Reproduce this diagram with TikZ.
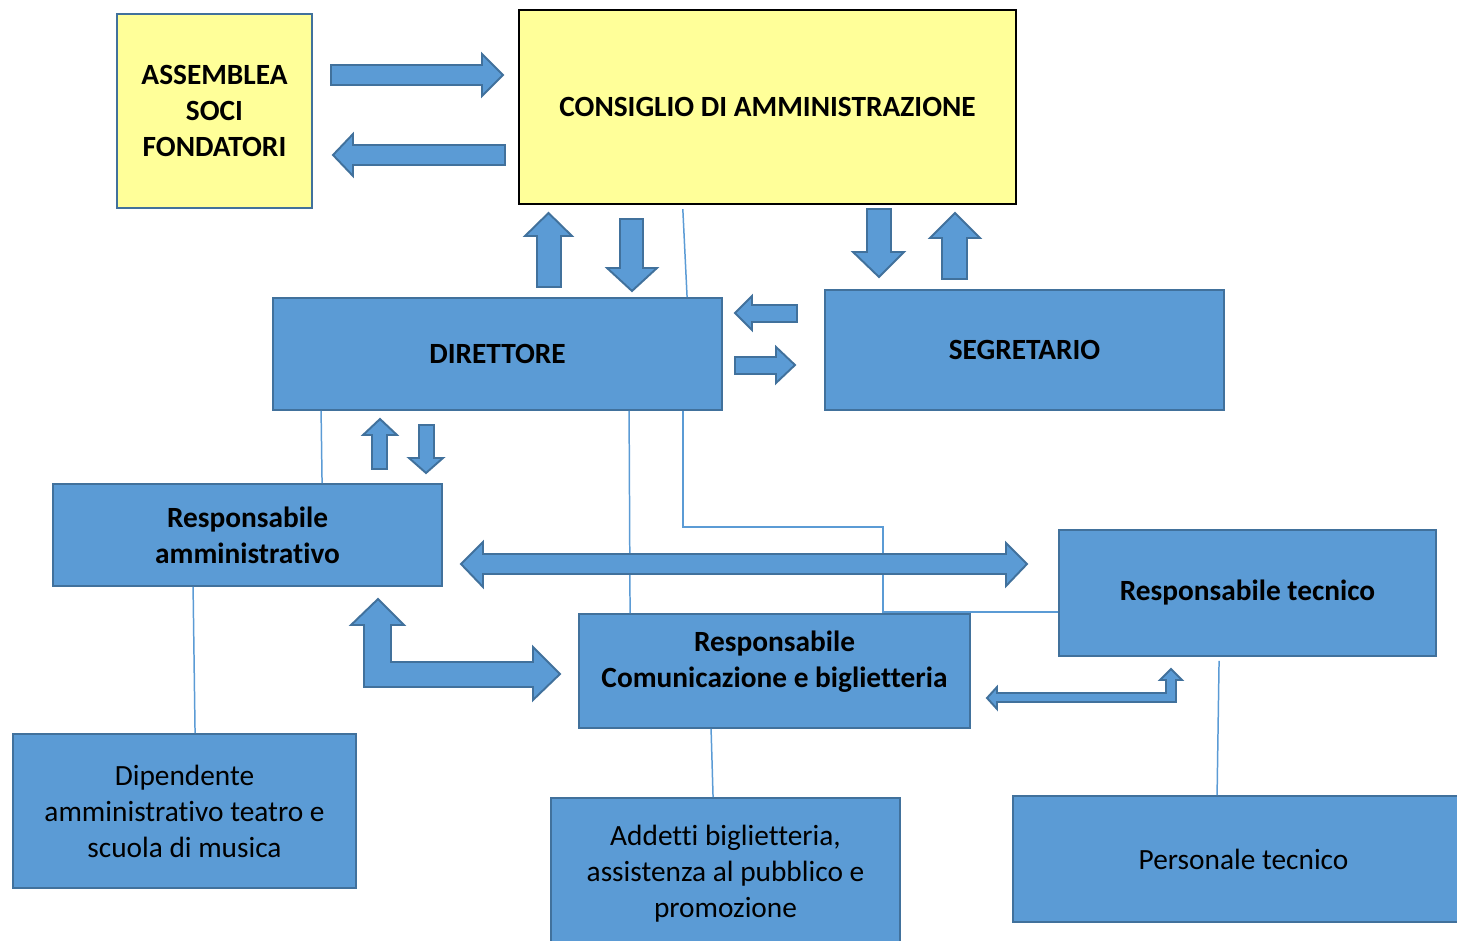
\documentclass[tikz,border=0pt]{standalone}
\usepackage{fontspec}
\setmainfont{Carlito}[Ligatures=NoCommon]
\usepackage{tikz}

\definecolor{boxblue}{HTML}{5B9BD5}
\definecolor{edgeblue}{HTML}{41719C}
\definecolor{paleyellow}{HTML}{FFFF99}

\tikzset{
  box/.style={draw=edgeblue, fill=boxblue, line width=1.1pt, inner sep=0pt, align=center,
    font=\fontsize{16.7}{20.5}\selectfont},
  boldbox/.style={box, font=\fontsize{16.7}{20.5}\selectfont\bfseries},
  yellowbox/.style={boldbox, fill=paleyellow},
  link/.style={draw=boxblue, line width=0.85pt},
  blockarr/.style={draw=edgeblue, fill=boxblue, line width=1.1pt, line join=miter}
}

\begin{document}
\begin{tikzpicture}[x=0.02cm, y=-0.02cm]
\useasboundingbox (0,0) rectangle (1457,940);
%
\node [yellowbox, minimum width=3.9cm, minimum height=3.88cm] (soci) at (214.5,111) {ASSEMBLEA\\SOCI\\FONDATORI};
\node [yellowbox, draw=black, line width=1.4pt, minimum width=9.94cm, minimum height=3.88cm] (cda) at (767.5,107) {CONSIGLIO DI AMMINISTRAZIONE};
\node [boldbox, minimum width=8.98cm, minimum height=2.24cm] (dir) at (497.5,354) {DIRETTORE};
\node [boldbox, minimum width=7.98cm, minimum height=2.4cm] (segr) at (1024.5,350) {SEGRETARIO};
\node [boldbox, minimum width=7.78cm, minimum height=2.04cm] (ramm) at (247.5,535) {Responsabile\\amministrativo};
\node [boldbox, minimum width=7.54cm, minimum height=2.52cm] (rtec) at (1247.5,593) {Responsabile tecnico};
\node [boldbox, minimum width=7.82cm, minimum height=2.28cm] (rcom) at (774.5,671) {};
\node [boldbox, draw=none, fill=none] (rcomtxt) at (774.5,662) {Responsabile\\Comunicazione e biglietteria};
\node [box, minimum width=6.86cm, minimum height=3.08cm] (dip) at (184.5,811) {Dipendente\\amministrativo teatro e\\scuola di musica};
\node [box, minimum width=6.98cm, minimum height=3.04cm] (addetti) at (725.5,874) {Addetti biglietteria,\\assistenza al pubblico e\\promozione};
\node [box, minimum width=8.94cm, minimum height=2.52cm] (pers) at (1236.5,859) {\hspace{8pt}Personale tecnico};
%
% thin links
\draw [link] ([shift={(165,4)}]cda.south west) -- ([shift={(415,0)}]dir.north west);
\draw [link] ([shift={(49,0)}]dir.south west) -- ([shift={(270,0)}]ramm.north west);
\draw [link] ([shift={(357,0)}]dir.south west) -- ([shift={(52,0)}]rcom.north west);
\draw [link] ([shift={(411,0)}]dir.south west) |- (883,527) |- ([shift={(0,19)}]rtec.west);
\draw [link] ([shift={(141,0)}]ramm.south west) -- ([shift={(183,0)}]dip.north west);
\draw [link] ([shift={(133,0)}]rcom.south west) -- ([shift={(163,0)}]addetti.north west);
\draw [link] ([shift={(161,4)}]rtec.south west) -- ([shift={(205,0)}]pers.north west);
%
% block arrows
\filldraw [blockarr] (331,65)--(482,65)--(482,54)--(503,75)--(482,96)--(482,85)--(331,85)--cycle;
\filldraw [blockarr] (505,145)--(353,145)--(353,134)--(333,155)--(353,176)--(353,165)--(505,165)--cycle;
\filldraw [blockarr] (537,287)--(537,236)--(525,236)--(548.5,213)--(572,236)--(561,236)--(561,287)--cycle;
\filldraw [blockarr] (620,219)--(643,219)--(643,268)--(657,268)--(632,291)--(607,268)--(620,268)--cycle;
\filldraw [blockarr] (867,209)--(891,209)--(891,252)--(904,252)--(879,277)--(853,252)--(867,252)--cycle;
\filldraw [blockarr] (942,279)--(942,238)--(930,238)--(955,213)--(980,238)--(967,238)--(967,279)--cycle;
\filldraw [blockarr] (797,305)--(752,305)--(752,296)--(735,313)--(752,330)--(752,322)--(797,322)--cycle;
\filldraw [blockarr] (735,357)--(776,357)--(776,347)--(795,365)--(776,383)--(776,374)--(735,374)--cycle;
\filldraw [blockarr] (372,469)--(372,435)--(363,435)--(380,419)--(397,435)--(387,435)--(387,469)--cycle;
\filldraw [blockarr] (419,425)--(434,425)--(434,458)--(443,458)--(426,473)--(409,458)--(419,458)--cycle;
%
\filldraw [blockarr] (461,564)--(483,542)--(483,554)--(1006,554)--(1006,543)--(1027,564)--(1006,586)--(1006,574)--(483,574)--(483,587)--cycle;
\filldraw [blockarr] (378,599)--(404,625)--(391,625)--(391,662)--(533,662)--(533,647)--(560,674)--(533,700)--(533,687)--(364,687)--(364,625)--(351,625)--cycle;
\filldraw [blockarr] (987,698)--(997,687)--(997,693)--(1166,693)--(1166,680)--(1160,680)--(1171,669)--(1182,680)--(1176,680)--(1176,702)--(997,702)--(997,709)--cycle;
\end{tikzpicture}
\end{document}
